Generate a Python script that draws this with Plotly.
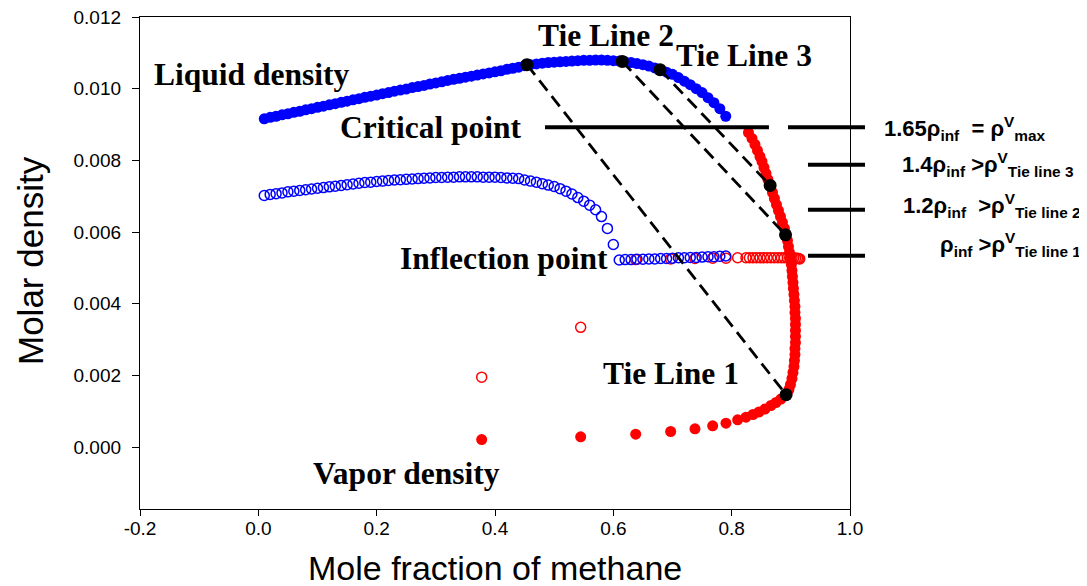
import plotly.graph_objects as go

# ---------------- data ----------------
# liquid composition grid (mole fraction of methane)
liq_x = [round(0.01 * i, 2) for i in range(1, 80)]

liquid_density = [
    0.00916, 0.00920, 0.00923, 0.00927, 0.00930, 0.00934, 0.00937, 0.00941, 0.00944, 0.00948,
    0.00951, 0.00955, 0.00958, 0.00962, 0.00965, 0.00969, 0.00972, 0.00976, 0.00979, 0.00982,
    0.00986, 0.00989, 0.00993, 0.00996, 0.00999, 0.01003, 0.01006, 0.01009, 0.01013, 0.01016,
    0.01019, 0.01023, 0.01026, 0.01029, 0.01032, 0.01035, 0.01038, 0.01041, 0.01044, 0.01047,
    0.01050, 0.01054, 0.01057, 0.01060, 0.01064, 0.01067, 0.01069, 0.01071, 0.01073, 0.01074,
    0.01075, 0.01076, 0.01077, 0.01078, 0.01079, 0.01079, 0.01080, 0.01080, 0.01079, 0.01078,
    0.01077, 0.01075, 0.01073, 0.01070, 0.01067, 0.01063, 0.01058, 0.01052, 0.01046, 0.01040,
    0.01031, 0.01021, 0.01011, 0.01000, 0.00989, 0.00975, 0.00961, 0.00944, 0.00923,
]

unstable_liquid_density = [
    0.00702, 0.00705, 0.00707, 0.00709, 0.00712, 0.00714, 0.00716, 0.00718, 0.00720, 0.00722,
    0.00724, 0.00726, 0.00728, 0.00730, 0.00732, 0.00734, 0.00736, 0.00738, 0.00739, 0.00741,
    0.00742, 0.00744, 0.00745, 0.00746, 0.00747, 0.00748, 0.00749, 0.00750, 0.00751, 0.00752,
    0.00752, 0.00753, 0.00753, 0.00754, 0.00754, 0.00754, 0.00754, 0.00753, 0.00753, 0.00753,
    0.00752, 0.00751, 0.00750, 0.00749, 0.00745, 0.00742, 0.00739, 0.00735, 0.00731, 0.00727,
    0.00721, 0.00714, 0.00706, 0.00696, 0.00686, 0.00675, 0.00662, 0.00643, 0.00610, 0.00565,
    0.00522, 0.00523, 0.00523, 0.00524, 0.00524, 0.00525, 0.00525, 0.00526, 0.00526, 0.00527,
    0.00528, 0.00528, 0.00529, 0.00529, 0.00530, 0.00531, 0.00531, 0.00532, 0.00533,
]

vapor_x = [
    0.3775, 0.5448, 0.6378, 0.6969, 0.7380, 0.7679, 0.7904, 0.8101, 0.8242,
    0.8360, 0.8461, 0.8563, 0.8664, 0.8749, 0.8833, 0.8918,
    0.8968, 0.8994, 0.9019, 0.9036, 0.9053, 0.9061, 0.9070, 0.9070, 0.9078, 0.9078,
    0.9078, 0.9078, 0.9078, 0.9070, 0.9070, 0.9061, 0.9053, 0.9044, 0.9036, 0.9027,
    0.9019, 0.9010, 0.8994, 0.8977, 0.8960, 0.8943, 0.8918, 0.8892, 0.8858, 0.8825,
    0.8791, 0.8757, 0.8723, 0.8690, 0.8647, 0.8613, 0.8580, 0.8546, 0.8512, 0.8478,
    0.8436, 0.8394, 0.8343, 0.8284,
]
vapor_density = [
    0.000209, 0.000285, 0.000357, 0.000433, 0.000508, 0.000592, 0.000664, 0.000759, 0.000832,
    0.000907, 0.000977, 0.001060, 0.001158, 0.001242, 0.001340, 0.001457,
    0.001605, 0.001744, 0.001912, 0.002079, 0.002247, 0.002414, 0.002581, 0.002749, 0.002916, 0.003084,
    0.003251, 0.003419, 0.003586, 0.003753, 0.003921, 0.004088, 0.004256, 0.004423, 0.004591, 0.004758,
    0.004926, 0.005093, 0.005260, 0.005428, 0.005595, 0.005763, 0.005930, 0.006098, 0.006265, 0.006433,
    0.006600, 0.006767, 0.006935, 0.007102, 0.007298, 0.007465, 0.007633, 0.007800, 0.007968, 0.008107,
    0.008275, 0.008442, 0.008610, 0.008777,
]

unstable_vapor_x = [
    0.3775, 0.5448, 0.6378, 0.6969, 0.7380, 0.7679, 0.7904, 0.8101, 0.8242,
    0.830, 0.836, 0.842, 0.848, 0.854, 0.860, 0.866, 0.872, 0.878, 0.884,
    0.889, 0.894, 0.898, 0.902, 0.905, 0.908, 0.911, 0.913, 0.915,
]
unstable_vapor_density = [
    0.00195, 0.00334, 0.00523, 0.00525, 0.00526, 0.00527, 0.00527, 0.00528, 0.00528,
    0.00528, 0.00528, 0.00528, 0.00528, 0.00528, 0.00528, 0.00528, 0.00528, 0.00528, 0.00528,
    0.00528, 0.00528, 0.00528, 0.00528, 0.00528, 0.00527, 0.00527, 0.00526, 0.00525,
]

# tie lines: liquid end -> vapor end
tie_liq_x = [0.454, 0.615, 0.679]
tie_liq_y = [0.01067, 0.01076, 0.01053]
tie_vap_x = [0.892, 0.891, 0.865]
tie_vap_y = [0.00146, 0.00592, 0.00730]

# density levels marked on the right
levels = [0.00892, 0.00788, 0.00662, 0.00534]
critical_x = [0.4845, 0.863]

x_ticks = [-0.2, 0.0, 0.2, 0.4, 0.6, 0.8, 1.0]
y_ticks = [0.000, 0.002, 0.004, 0.006, 0.008, 0.010, 0.012]

# ---------------- figure ----------------
BLUE = "#0000FF"
RED = "#FF0000"
fig = go.Figure()

fig.add_trace(go.Scatter(x=liq_x, y=liquid_density, mode="markers",
                         marker=dict(color=BLUE, size=11, line=dict(width=0)),
                         showlegend=False, hoverinfo="skip"))
fig.add_trace(go.Scatter(x=unstable_vapor_x, y=unstable_vapor_density, mode="markers",
                         marker=dict(symbol="circle-open", color=RED, size=10, line=dict(width=1.5, color=RED)),
                         showlegend=False, hoverinfo="skip"))
fig.add_trace(go.Scatter(x=liq_x, y=unstable_liquid_density, mode="markers",
                         marker=dict(symbol="circle-open", color=BLUE, size=10, line=dict(width=1.5, color=BLUE)),
                         showlegend=False, hoverinfo="skip"))
fig.add_trace(go.Scatter(x=vapor_x, y=vapor_density, mode="markers",
                         marker=dict(color=RED, size=11, line=dict(width=0)),
                         showlegend=False, hoverinfo="skip"))

for i in range(len(tie_liq_x)):
    fig.add_trace(go.Scatter(x=[tie_liq_x[i], tie_vap_x[i]], y=[tie_liq_y[i], tie_vap_y[i]],
                             mode="lines", line=dict(color="black", width=2.8, dash="13px,7px"),
                             showlegend=False, hoverinfo="skip"))

fig.add_trace(go.Scatter(x=tie_liq_x + tie_vap_x, y=tie_liq_y + tie_vap_y, mode="markers",
                         marker=dict(color="black", size=13, line=dict(width=0)),
                         showlegend=False, hoverinfo="skip"))

# critical point line
fig.add_shape(type="line", xref="x", yref="y", x0=critical_x[0], x1=critical_x[1],
              y0=levels[0], y1=levels[0], line=dict(color="black", width=4))
# right-hand level markers (paper x so they may extend past the frame)
seg_x0 = [0.9127, 0.9408, 0.9408, 0.9408]
for lv, x0 in zip(levels, seg_x0):
    fig.add_shape(type="line", xref="paper", yref="y", x0=x0, x1=1.0211,
                  y0=lv, y1=lv, line=dict(color="black", width=4))

serif = dict(family="Liberation Serif, Times New Roman, serif", size=31.5, color="black", weight="bold")
labels = [
    ("Liquid density", -0.0116, 0.01040),
    ("Tie Line 2", 0.5876, 0.01148),
    ("Tie Line 3", 0.8208, 0.01093),
    ("Critical point", 0.2918, 0.00892),
    ("Inflection point", 0.4152, 0.00526),
    ("Tie Line 1", 0.6981, 0.00205),
    ("Vapor density", 0.2496, -0.00074),
]
for t, lx, ly in labels:
    fig.add_annotation(text=t, x=lx, y=ly, xref="x", yref="y", showarrow=False,
                       xanchor="center", yanchor="middle", font=serif)

sans_b = dict(family="Liberation Sans, Arial, sans-serif", size=22, color="black", weight="bold")
right_texts = [
    ("1.65ρ<sub>inf</sub>\u00a0\u00a0= ρ<sup>V</sup><sub>max</sub>", 1.0451, 0.00888),
    ("1.4ρ<sub>inf</sub> >ρ<sup>V</sup><sub>Tie line 3</sub>", 1.0704, 0.00788),
    ("1.2ρ<sub>inf</sub>\u00a0\u00a0>ρ<sup>V</sup><sub>Tie line 2</sub>", 1.0718, 0.00674),
    ("ρ<sub>inf</sub> >ρ<sup>V</sup><sub>Tie line 1</sub>", 1.1239, 0.00566),
]
for t, px_, py_ in right_texts:
    fig.add_annotation(text=t, x=px_, y=py_, xref="paper", yref="y", showarrow=False,
                       xanchor="left", yanchor="middle", font=sans_b)

# axis titles
fig.add_annotation(text="Mole fraction of methane", x=0.5, y=-0.12, xref="paper", yref="paper",
                   showarrow=False, xanchor="center", yanchor="middle",
                   font=dict(family="Liberation Sans, Arial, sans-serif", size=34, color="black"))
fig.add_annotation(text="Molar density", x=-0.155, y=0.506, xref="paper", yref="paper",
                   showarrow=False, xanchor="center", yanchor="middle", textangle=-90,
                   font=dict(family="Liberation Sans, Arial, sans-serif", size=35, color="black"))

tick_font = dict(family="Liberation Sans, Arial, sans-serif", size=19, color="black")
# the page body adds an 8px offset; margins compensate so the frame lands where the reference has it
fig.update_layout(
    width=1079, height=578,
    margin=dict(l=132, r=237, t=9, b=77, autoexpand=False),
    plot_bgcolor="white", paper_bgcolor="white",
    xaxis=dict(range=[-0.2, 1.0], autorange=False, tickvals=x_ticks, automargin=False,
               ticktext=[f"{v:.1f}" for v in x_ticks], ticks="outside", ticklen=6, tickwidth=1.3,
               tickcolor="black", showline=True, linecolor="black", linewidth=1.3, mirror=True,
               showgrid=False, zeroline=False, tickfont=tick_font, ticklabeloverflow="allow",
               ticklabelstandoff=-4),
    yaxis=dict(range=[-0.00173, 0.012], autorange=False, tickvals=y_ticks, automargin=False,
               ticktext=[f"{v:.3f}" for v in y_ticks], ticks="outside", ticklen=7, tickwidth=1.3,
               tickcolor="black", showline=True, linecolor="black", linewidth=1.3, mirror=True,
               showgrid=False, zeroline=False, tickfont=tick_font, ticklabelstandoff=7,
               ticklabeloverflow="allow"),
)

fig.write_html("out.html")
